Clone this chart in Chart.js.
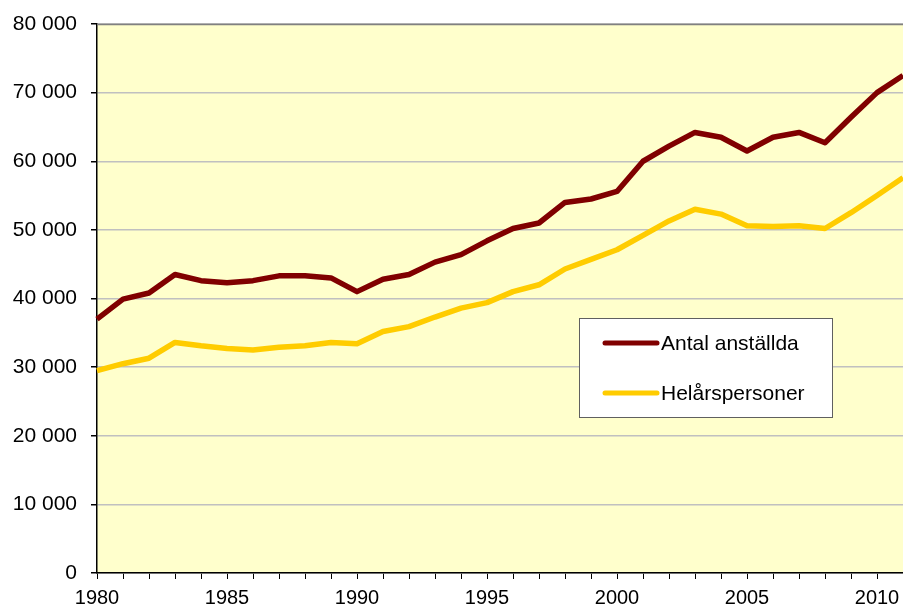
<!DOCTYPE html>
<html>
<head>
<meta charset="utf-8">
<script src="https://cdn.jsdelivr.net/npm/chart.js@4/dist/chart.umd.min.js"></script>
<style>
html,body{margin:0;padding:0;background:#fff;}
#c{display:block;}
</style>
</head>
<body>
<canvas id="c" width="903" height="610"></canvas>
<script>
const years = [1980,1981,1982,1983,1984,1985,1986,1987,1988,1989,1990,1991,1992,1993,1994,1995,1996,1997,1998,1999,2000,2001,2002,2003,2004,2005,2006,2007,2008,2009,2010,2011];
const antalAnstallda = [37000,39900,40800,43500,42600,42300,42600,43300,43300,43000,41000,42800,43500,45300,46400,48400,50200,51000,54000,54500,55600,60000,62200,64200,63500,61500,63500,64200,62700,66400,70000,72500];
const helarspersoner = [29500,30500,31300,33600,33100,32700,32500,32900,33100,33600,33400,35200,35900,37300,38600,39400,41000,42000,44300,45700,47100,49200,51300,53000,52300,50600,50500,50600,50200,52500,55000,57600];
const seriesLabels = ["Antal anställda","Helårspersoner"];
const yTicks = [0,10000,20000,30000,40000,50000,60000,70000,80000];

const FONT = "'Liberation Sans', Arial, sans-serif";

const bgPlugin = {
  id: 'bg',
  beforeDraw(chart) {
    const {ctx, chartArea: a} = chart;
    ctx.save();
    ctx.fillStyle = '#FFFFCC';
    ctx.fillRect(a.left, a.top, a.right - a.left, a.bottom - a.top);
    ctx.restore();
  },
  afterDatasetsDraw(chart) {
    const {ctx, chartArea: a} = chart;
    ctx.save();
    ctx.strokeStyle = '#808080';
    ctx.lineWidth = 1.5;
    ctx.beginPath();
    ctx.moveTo(a.left, a.top + 0.5);
    ctx.lineTo(a.right, a.top + 0.5);
    ctx.stroke();
    ctx.restore();
  }
};

const legendPlugin = {
  id: 'boxLegend',
  afterDraw(chart) {
    const ctx = chart.ctx;
    const x = 579.5, y = 318.5, w = 253, h = 99;
    ctx.save();
    ctx.fillStyle = '#FFFFFF';
    ctx.fillRect(x, y, w, h);
    ctx.strokeStyle = '#606060';
    ctx.lineWidth = 1;
    ctx.strokeRect(x, y, w, h);
    chart.data.datasets.forEach((ds, i) => {
      const ly = 343 + i * 50;
      ctx.strokeStyle = ds.borderColor;
      ctx.lineWidth = 5;
      ctx.lineCap = 'round';
      ctx.beginPath();
      ctx.moveTo(605, ly);
      ctx.lineTo(657, ly);
      ctx.stroke();
      ctx.fillStyle = '#000';
      ctx.font = '21px ' + FONT;
      ctx.textBaseline = 'middle';
      ctx.textAlign = 'left';
      ctx.fillText(ds.label, 661, ly + 1);
    });
    ctx.restore();
  }
};

function fmt(v) {
  return String(v).replace(/\B(?=(\d{3})+(?!\d))/g, ' ');
}

new Chart(document.getElementById('c'), {
  type: 'line',
  data: {
    labels: years,
    datasets: [
      {label: seriesLabels[0], data: antalAnstallda, borderColor: '#800000', borderWidth: 5.5, pointRadius: 0, tension: 0, borderJoinStyle: 'round', fill: false},
      {label: seriesLabels[1], data: helarspersoner, borderColor: '#FFCC00', borderWidth: 5.5, pointRadius: 0, tension: 0, borderJoinStyle: 'round', fill: false}
    ]
  },
  options: {
    responsive: false,
    animation: false,
    devicePixelRatio: 1,
    layout: {padding: {top: 24, right: 0, bottom: 0, left: 0}},
    plugins: {legend: {display: false}, tooltip: {enabled: false}},
    scales: {
      x: {
        type: 'category',
        offset: false,
        grid: {drawOnChartArea: false, drawTicks: true, tickLength: 6, tickColor: '#000', color: '#000'},
        border: {display: true, color: '#000', width: 1.5},
        ticks: {
          autoSkip: false, maxRotation: 0, minRotation: 0, padding: 7,
          color: '#000', font: {family: FONT, size: 20},
          callback: function(val, idx) { const yv = years[idx]; return yv % 5 === 0 ? String(yv) : ''; }
        },
        afterFit: s => { s.height = 37; s.paddingRight = 0; s.paddingLeft = 0; }
      },
      y: {
        min: 0, max: 80000,
        afterBuildTicks: s => { s.ticks = yTicks.map(v => ({value: v})); },
        grid: {color: '#C0C0C0', lineWidth: 1.5, drawTicks: true, tickLength: 6, tickColor: '#000'},
        border: {display: true, color: '#000', width: 1.5},
        ticks: {color: '#000', padding: 14, font: {family: FONT, size: 21}, callback: v => fmt(v)},
        afterFit: s => { s.width = 97; s.paddingTop = 0; s.paddingBottom = 0; }
      }
    }
  },
  plugins: [bgPlugin, legendPlugin]
});
</script>
</body>
</html>
